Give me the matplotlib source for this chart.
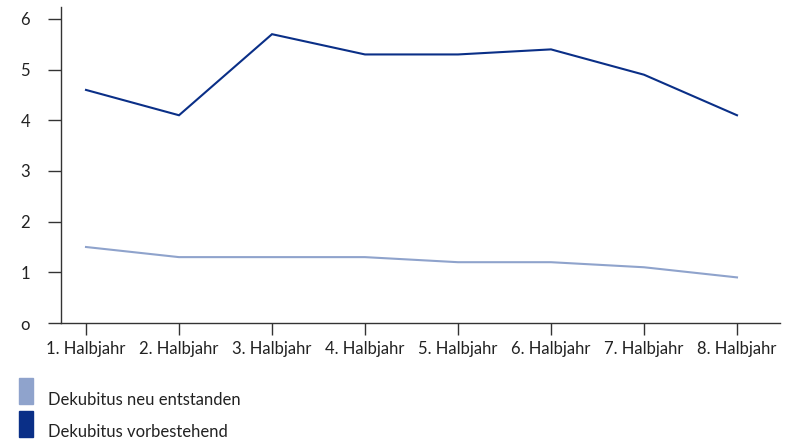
import matplotlib
matplotlib.use("Agg")
import matplotlib.pyplot as plt
from matplotlib.patches import Rectangle

categories = ["1. Halbjahr", "2. Halbjahr", "3. Halbjahr", "4. Halbjahr",
              "5. Halbjahr", "6. Halbjahr", "7. Halbjahr", "8. Halbjahr"]
neu = [1.5, 1.3, 1.3, 1.3, 1.2, 1.2, 1.1, 0.9]
vorbestehend = [4.6, 4.1, 5.7, 5.3, 5.3, 5.4, 4.9, 4.1]
series_names = ["Dekubitus neu entstanden", "Dekubitus vorbestehend"]
colors = ["#8fa3cc", "#0a2f87"]
yticks = [0, 1, 2, 3, 4, 5, 6]
ytick_labels = ["o", "1", "2", "3", "4", "5", "6"]

plt.rcParams['font.family'] = ['Lato', 'DejaVu Sans']

W, H = 787, 442
PX = 72 / 100  # points per pixel
fig = plt.figure(figsize=(W/100, H/100), dpi=100)
ax = fig.add_axes([61/W, 1 - 323/H, (780-61)/W, (323-7)/H])

x = list(range(len(categories)))
ax.plot(x, neu, color=colors[0], lw=1.5, solid_joinstyle='miter')
ax.plot(x, vorbestehend, color=colors[1], lw=1.5, solid_joinstyle='miter')

ax.set_xlim(-25/93, (780-86)/93)
ax.set_ylim(0, (323-7)/50.67)
ax.set_xticks(x)
ax.set_xticklabels(categories, fontsize=12, color="#222222")
ax.set_yticks(yticks)
ax.set_yticklabels(ytick_labels, fontsize=12, color="#222222")

for s in ["top", "right"]:
    ax.spines[s].set_visible(False)
for s in ["left", "bottom"]:
    ax.spines[s].set_color("#333333")
    ax.spines[s].set_linewidth(1.0)
ax.tick_params(axis='y', length=13*PX, width=1.0, color="#333333", pad=18*PX)
ax.tick_params(axis='x', length=12*PX, width=1.0, color="#333333", pad=6*PX)

# legend
legend_rows = [(378, 404, 400), (411, 437, 432)]
for name, col, (y0, y1, ty) in zip(series_names, colors, legend_rows):
    fig.patches.append(Rectangle((19/W, 1 - y1/H), 14/W, (y1-y0)/H,
                                 transform=fig.transFigure, color=col))
    fig.text(48/W, 1 - ty/H, name, fontsize=12, color="#222222", va='center', ha='left')

fig.savefig("out.png", dpi=100)
